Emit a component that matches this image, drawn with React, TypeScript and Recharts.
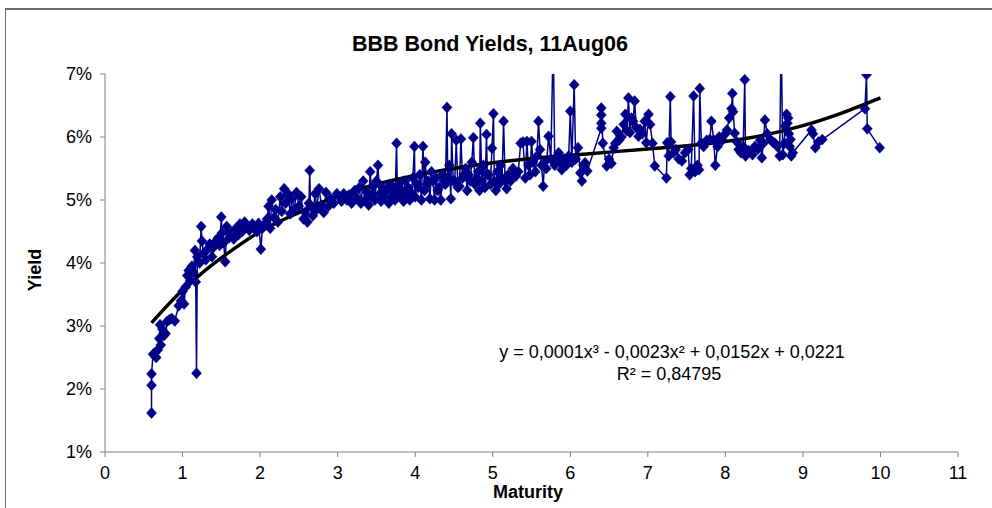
import React from 'react';
import { ComposedChart, Line, XAxis, YAxis } from 'recharts';

const chartTitle = 'BBB Bond Yields, 11Aug06';
const xAxisTitle = 'Maturity';
const yAxisTitle = 'Yield';
const equationText = 'y = 0,0001x³ - 0,0023x² + 0,0152x + 0,0221';
const rSquaredText = 'R² = 0,84795';

const xTicks = [0, 1, 2, 3, 4, 5, 6, 7, 8, 9, 10, 11];
const yTicks = [1, 2, 3, 4, 5, 6, 7];

// [maturity (years), yield (%)]
const bondsUnder1y: [number, number][] = [
  [0.6, 1.62], [0.6, 2.06], [0.6, 2.24], [0.62, 2.55], [0.64, 2.57], [0.66, 2.5], [0.68, 2.62], [0.7, 2.8],
  [0.71, 3.02], [0.72, 2.7], [0.74, 2.95], [0.76, 2.85], [0.78, 2.88], [0.8, 3.07], [0.83, 3.1], [0.86, 3.12],
  [0.9, 3.08], [0.95, 3.32], [0.98, 3.4],
];
const bonds1to2y: [number, number][] = [
  [1.0, 3.55], [1.02, 3.35], [1.04, 3.62], [1.06, 3.8], [1.08, 3.88], [1.1, 3.72], [1.12, 3.95], [1.14, 3.85],
  [1.16, 4.2], [1.17, 3.7], [1.18, 2.25], [1.19, 4.1], [1.22, 4.0], [1.24, 4.58], [1.25, 4.35], [1.27, 4.15],
  [1.3, 4.05], [1.32, 4.22], [1.35, 4.3], [1.38, 4.1], [1.4, 4.25], [1.43, 4.35], [1.46, 4.4], [1.48, 4.28],
  [1.5, 4.73], [1.51, 4.48], [1.53, 4.32], [1.55, 4.02], [1.57, 4.58], [1.6, 4.4], [1.63, 4.48], [1.66, 4.38],
  [1.69, 4.55], [1.72, 4.45], [1.74, 4.62], [1.77, 4.5], [1.8, 4.65], [1.83, 4.58], [1.86, 4.52], [1.9, 4.62],
  [1.93, 4.55], [1.96, 4.5], [1.98, 4.63],
];
const bonds2to3y: [number, number][] = [
  [2.01, 4.22], [2.03, 4.55], [2.06, 4.62], [2.09, 4.7], [2.11, 4.9], [2.13, 4.55], [2.15, 5.0], [2.18, 4.72],
  [2.2, 4.85], [2.23, 4.65], [2.26, 5.05], [2.28, 4.82], [2.31, 5.18], [2.33, 4.95], [2.36, 5.1], [2.39, 4.78],
  [2.41, 5.02], [2.44, 4.85], [2.47, 5.12], [2.5, 4.9], [2.53, 5.05], [2.56, 4.7], [2.58, 4.8], [2.61, 4.65],
  [2.63, 4.95], [2.64, 5.47], [2.65, 4.9], [2.68, 4.75], [2.71, 5.1], [2.73, 4.85], [2.76, 5.18], [2.79, 4.92],
  [2.82, 4.8], [2.85, 5.12], [2.88, 4.9], [2.91, 5.02], [2.95, 4.95], [2.99, 5.1],
];
const bonds3to4y: [number, number][] = [
  [3.02, 5.05], [3.05, 4.98], [3.08, 5.1], [3.12, 5.0], [3.15, 5.08], [3.18, 4.95], [3.22, 5.15], [3.25, 5.02],
  [3.28, 5.2], [3.3, 4.95], [3.33, 5.3], [3.35, 5.0], [3.38, 5.12], [3.4, 4.92], [3.42, 5.45], [3.44, 5.05],
  [3.46, 5.22], [3.48, 5.0], [3.5, 5.3], [3.52, 5.55], [3.54, 5.1], [3.56, 4.98], [3.58, 5.2], [3.6, 5.05],
  [3.63, 5.15], [3.66, 4.95], [3.68, 5.25], [3.7, 5.05], [3.72, 5.18], [3.74, 5.0], [3.76, 5.9], [3.77, 5.1],
  [3.79, 5.25], [3.81, 5.05], [3.83, 5.15], [3.85, 4.98], [3.87, 5.3], [3.89, 5.05], [3.91, 5.2], [3.93, 5.0],
  [3.95, 5.12], [3.97, 5.35], [3.99, 5.85], [4.0, 5.05],
];
const bonds4to5y: [number, number][] = [
  [4.02, 5.25], [4.04, 5.2], [4.06, 5.4], [4.08, 5.0], [4.1, 5.85], [4.12, 5.15], [4.13, 5.6], [4.15, 5.25],
  [4.17, 5.3], [4.19, 5.02], [4.21, 5.45], [4.23, 5.3], [4.25, 5.0], [4.27, 5.35], [4.29, 5.15], [4.31, 5.2],
  [4.33, 5.0], [4.35, 5.4], [4.37, 5.3], [4.39, 5.25], [4.41, 6.47], [4.42, 5.35], [4.44, 5.55], [4.46, 5.02],
  [4.47, 6.05], [4.49, 5.3], [4.51, 5.3], [4.53, 5.95], [4.55, 5.2], [4.57, 5.22], [4.59, 5.97], [4.61, 5.35],
  [4.63, 5.4], [4.65, 5.5], [4.67, 5.15], [4.69, 5.4], [4.71, 5.3], [4.73, 5.6], [4.75, 5.99], [4.77, 5.25],
  [4.79, 5.35], [4.81, 5.45], [4.83, 5.15], [4.84, 6.22], [4.86, 5.3], [4.88, 5.55], [4.9, 5.2], [4.92, 6.04],
  [4.93, 5.4], [4.95, 5.4], [4.97, 5.25], [4.99, 5.82],
];
const bonds5to6y: [number, number][] = [
  [5.01, 6.37], [5.02, 5.3], [5.04, 5.15], [5.06, 5.45], [5.08, 5.25], [5.1, 5.55], [5.12, 5.35], [5.14, 6.25],
  [5.16, 5.3], [5.18, 5.18], [5.2, 5.4], [5.23, 5.3], [5.26, 5.5], [5.3, 5.38], [5.33, 5.45], [5.36, 5.9],
  [5.39, 5.92], [5.42, 5.35], [5.44, 5.93], [5.46, 5.55], [5.48, 5.4], [5.5, 5.93], [5.52, 5.6], [5.55, 5.45],
  [5.57, 5.7], [5.59, 6.25], [5.61, 5.8], [5.63, 5.55], [5.65, 5.22], [5.67, 5.6], [5.69, 5.5], [5.72, 6.01],
  [5.75, 5.65], [5.78, 7.6], [5.8, 5.55], [5.83, 5.7], [5.85, 5.75], [5.87, 5.6], [5.89, 5.48], [5.92, 5.65],
  [5.95, 5.55], [5.98, 5.7],
];
const bonds6to7y: [number, number][] = [
  [6.0, 6.41], [6.02, 5.6], [6.05, 6.83], [6.07, 5.65], [6.1, 5.83], [6.13, 5.43], [6.15, 5.3], [6.17, 5.55],
  [6.19, 5.59], [6.22, 5.46], [6.4, 6.14], [6.4, 6.22], [6.4, 6.35], [6.4, 6.46], [6.42, 5.9], [6.47, 5.54],
  [6.5, 5.65], [6.53, 5.58], [6.56, 5.83], [6.58, 5.9], [6.6, 6.09], [6.63, 5.95], [6.66, 6.0], [6.69, 6.2],
  [6.71, 6.36], [6.73, 6.1], [6.75, 6.62], [6.77, 6.07], [6.79, 6.3], [6.81, 6.25], [6.83, 6.57], [6.85, 6.15],
  [6.88, 6.01], [6.9, 6.12], [6.93, 6.05], [6.96, 6.25], [6.98, 5.91],
];
const bonds7to8y: [number, number][] = [
  [7.01, 6.36], [7.03, 6.2], [7.06, 5.9], [7.09, 5.54], [7.24, 5.35], [7.25, 5.91], [7.27, 5.7], [7.29, 6.64],
  [7.3, 5.92], [7.33, 5.75], [7.36, 5.8], [7.4, 5.65], [7.44, 5.62], [7.48, 5.75], [7.52, 5.8], [7.54, 5.4],
  [7.56, 5.5], [7.59, 6.65], [7.61, 5.45], [7.64, 5.55], [7.66, 5.48], [7.67, 6.77], [7.69, 5.9], [7.72, 5.85],
  [7.76, 5.95], [7.8, 5.96], [7.82, 6.25], [7.85, 5.95], [7.87, 5.55], [7.9, 5.85], [7.92, 6.0], [7.96, 5.95],
];
const bondsOver8y: [number, number][] = [
  [8.0, 6.05], [8.02, 6.11], [8.05, 6.3], [8.08, 6.45], [8.09, 6.69], [8.1, 6.4], [8.12, 6.06], [8.15, 5.92],
  [8.17, 5.8], [8.2, 5.75], [8.23, 5.85], [8.25, 6.91], [8.26, 5.7], [8.3, 5.78], [8.35, 5.72], [8.38, 5.85],
  [8.42, 5.81], [8.45, 5.95], [8.47, 5.67], [8.49, 5.9], [8.51, 6.27], [8.54, 6.05], [8.58, 5.96], [8.61, 5.92],
  [8.64, 5.9], [8.67, 5.85], [8.7, 5.7], [8.72, 7.6], [8.74, 5.72], [8.76, 5.9], [8.77, 6.17], [8.79, 6.36],
  [8.8, 6.22], [8.81, 6.3], [8.82, 6.05], [8.83, 5.85], [8.84, 5.96], [8.85, 5.7], [8.87, 5.75], [9.11, 6.11],
  [9.13, 6.05], [9.16, 5.83], [9.2, 5.92], [9.25, 5.96], [9.8, 6.45], [9.82, 6.99], [9.83, 6.13], [9.99, 5.83],
];

// polynomial trendline as drawn
const trendMaturity = [0.6, 0.8, 1.0, 1.25, 1.5, 1.75, 2.0, 2.25, 2.5, 2.75, 3.0, 3.5, 4.0, 4.5, 5.0, 5.5, 6.0, 6.5, 7.0, 7.5, 8.0, 8.5, 9.0, 9.5, 10.0];
const trendYield = [3.05, 3.32, 3.57, 3.84, 4.08, 4.3, 4.5, 4.66, 4.8, 4.94, 5.06, 5.25, 5.39, 5.5, 5.59, 5.66, 5.71, 5.76, 5.81, 5.86, 5.93, 6.03, 6.18, 6.38, 6.62];

const bondData = [
  ...bondsUnder1y, ...bonds1to2y, ...bonds2to3y, ...bonds3to4y, ...bonds4to5y,
  ...bonds5to6y, ...bonds6to7y, ...bonds7to8y, ...bondsOver8y,
].map(([m, y]) => ({ m, y }));
const trendData = trendMaturity.map((m, i) => ({ m, t: trendYield[i] }));

const FONT = '"Liberation Sans", Arial, sans-serif';
const NAVY = '#000088';
const AXIS = '#808080';

const Diamond = (props: any) => {
  const { cx, cy, index } = props;
  if (cx == null || cy == null || isNaN(cx) || isNaN(cy)) return <g key={`d-${index}`} />;
  return (
    <path
      key={`d-${index}`}
      d={`M${cx},${cy - 5.5}L${cx + 5},${cy}L${cx},${cy + 5.5}L${cx - 5},${cy}Z`}
      fill={NAVY}
      stroke={NAVY}
      strokeWidth={0.5}
    />
  );
};

const textBase: React.CSSProperties = {
  position: 'absolute',
  fontFamily: FONT,
  color: '#000',
  whiteSpace: 'nowrap',
  textAlign: 'center',
  lineHeight: 1,
};

export default function App() {
  return (
    <div style={{ position: 'absolute', left: 0, top: 0, width: 992, height: 508, overflow: 'hidden', background: '#fff' }}>
      <div
        style={{
          position: 'absolute', left: 5, top: 8, width: 992, height: 520,
          borderTop: '2px solid #6a6a6a', borderLeft: '1px solid #6a6a6a',
        }}
      />
      <div style={{ position: 'absolute', left: 0, top: 0 }}>
        <ComposedChart width={992} height={508} margin={{ top: 74, right: 34, bottom: 26, left: 0 }}>
          <XAxis
            type="number"
            dataKey="m"
            domain={[0, 11]}
            ticks={xTicks}
            interval={0}
            allowDataOverflow
            height={30}
            tickSize={5}
            tickMargin={9}
            axisLine={{ stroke: AXIS }}
            tickLine={{ stroke: AXIS }}
            tick={{ fill: '#000', fontSize: 18, fontFamily: FONT }}
          />
          <YAxis
            type="number"
            domain={[1, 7]}
            ticks={yTicks}
            interval={0}
            allowDataOverflow
            width={105}
            tickSize={5}
            tickMargin={8}
            axisLine={{ stroke: AXIS }}
            tickLine={{ stroke: AXIS }}
            tick={{ fill: '#000', fontSize: 18, fontFamily: FONT }}
            tickFormatter={(v: number) => `${v}%`}
          />
          <Line
            data={bondData}
            dataKey="y"
            type="linear"
            stroke={NAVY}
            strokeWidth={1.5}
            dot={Diamond}
            activeDot={false}
            isAnimationActive={false}
          />
          <Line
            data={trendData}
            dataKey="t"
            type="monotone"
            stroke="#000"
            strokeWidth={3.5}
            dot={false}
            activeDot={false}
            isAnimationActive={false}
          />
        </ComposedChart>
      </div>
      <div style={{ ...textBase, left: 290, width: 400, top: 34, fontSize: 21.5, fontWeight: 'bold' }}>{chartTitle}</div>
      <div style={{ ...textBase, left: 428, width: 200, top: 483, fontSize: 18, fontWeight: 'bold' }}>{xAxisTitle}</div>
      <div
        style={{
          ...textBase, left: -15, width: 100, top: 261, fontSize: 18, fontWeight: 'bold',
          transform: 'rotate(-90deg)',
        }}
      >
        {yAxisTitle}
      </div>
      <div style={{ ...textBase, left: 472, width: 400, top: 343, fontSize: 18 }}>{equationText}</div>
      <div style={{ ...textBase, left: 469, width: 400, top: 365, fontSize: 18 }}>{rSquaredText}</div>
    </div>
  );
}
